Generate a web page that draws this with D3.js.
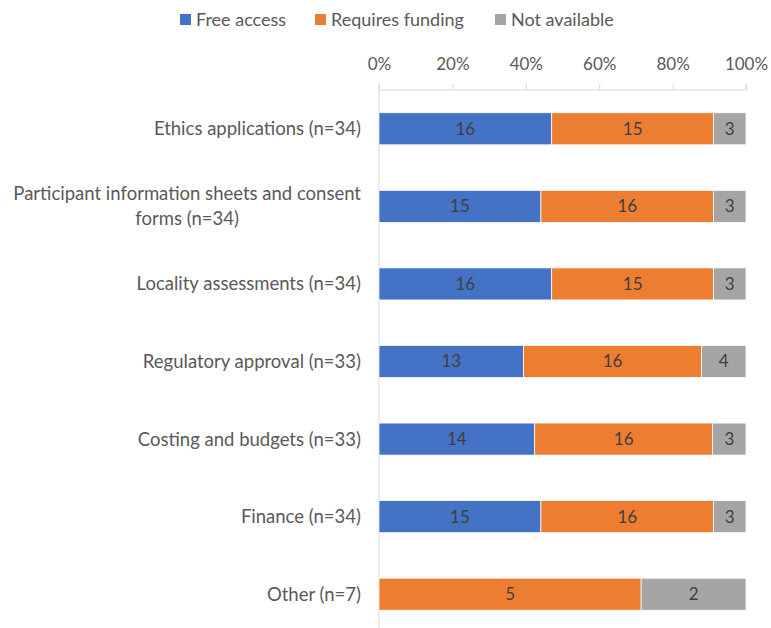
<!DOCTYPE html>
<html>
<head>
<meta charset="utf-8">
<script src="https://cdn.jsdelivr.net/npm/d3@7"></script>
<style>
  body { margin: 0; background: #fff; }
  svg { display: block; font-family: Lato, "Open Sans", sans-serif; }
</style>
</head>
<body>
<svg id="chart" width="771" height="628"></svg>
<script>
// Survey responses: availability of support per study activity
const categories = [
  "Ethics applications (n=34)",
  "Participant information sheets and consent forms (n=34)",
  "Locality assessments (n=34)",
  "Regulatory approval (n=33)",
  "Costing and budgets (n=33)",
  "Finance (n=34)",
  "Other (n=7)"
];
const seriesNames = ["Free access", "Requires funding", "Not available"];
const freeAccess      = [16, 15, 16, 13, 14, 15, 0];
const requiresFunding = [15, 16, 15, 16, 16, 16, 5];
const notAvailable    = [3, 3, 3, 4, 3, 3, 2];
const tickValues = [0, 0.2, 0.4, 0.6, 0.8, 1.0];
const colors = ["#4472C4", "#ED7D31", "#A5A5A5"];

const svg = d3.select("#chart");
const margin = { left: 379, right: 25, top: 90, bottom: -5 };
const W = 771, H = 628;

const rows = categories.map((c, i) => {
  const vals = [freeAccess[i], requiresFunding[i], notAvailable[i]];
  const total = d3.sum(vals);
  return { category: c, vals, total };
});

const x = d3.scaleLinear().domain([0, 1]).range([margin.left, W - margin.right]);
const y = d3.scaleBand().domain(categories)
  .range([margin.top, H - margin.bottom]).paddingInner(0.587).paddingOuter(0.2935);

// Percentage axis along the top
const xAxis = d3.axisTop(x).tickValues(tickValues)
  .tickFormat(d3.format(".0%")).tickSize(6).tickPadding(14);
const gx = svg.append("g").attr("transform", `translate(0,${margin.top})`).call(xAxis);
gx.select(".domain").attr("stroke", "#d9d9d9").attr("d", `M${x(0)},-6V0H${x(1)}V-6`);
gx.selectAll(".tick line").attr("stroke", "#d9d9d9");
gx.selectAll(".tick text").attr("fill", "#595959").style("font-size", "17px")
  .style("font-family", "Lato, 'Open Sans', sans-serif");

// Vertical category axis line
svg.append("line").attr("x1", x(0)).attr("x2", x(0))
  .attr("y1", margin.top).attr("y2", H).attr("stroke", "#d9d9d9");

// Stacked segments
const stack = rows.map(r => {
  let acc = 0;
  return r.vals.map((v, k) => {
    const seg = { category: r.category, k, v, x0: acc / r.total, x1: (acc + v) / r.total };
    acc += v;
    return seg;
  }).filter(s => s.v > 0);
});

const gBars = svg.append("g");
stack.forEach(segs => {
  gBars.selectAll(null).data(segs).enter().append("rect")
    .attr("x", d => x(d.x0))
    .attr("width", d => x(d.x1) - x(d.x0))
    .attr("y", d => y(d.category))
    .attr("height", y.bandwidth())
    .attr("fill", d => colors[d.k])
    .attr("stroke", "#fff").attr("stroke-width", 0.75);
  gBars.selectAll(null).data(segs).enter().append("text")
    .attr("x", d => (x(d.x0) + x(d.x1)) / 2)
    .attr("y", d => y(d.category) + y.bandwidth() / 2)
    .attr("dy", "0.35em").attr("text-anchor", "middle")
    .attr("fill", "#404040").style("font-size", "17px")
    .text(d => d.v);
});

// Category labels, wrapped where too long, block right-aligned
const labelRight = 361, maxWidth = 358;
const gLab = svg.append("g").style("font-size", "18.5px").attr("fill", "#595959");
categories.forEach(c => {
  const cy = y(c) + y.bandwidth() / 2;
  const t = gLab.append("text");
  const words = c.split(" ");
  let lines = [], line = [];
  words.forEach(w => {
    line.push(w);
    t.text(line.join(" "));
    if (t.node().getComputedTextLength() > maxWidth && line.length > 1) {
      line.pop(); lines.push(line.join(" ")); line = [w];
    }
  });
  lines.push(line.join(" "));
  t.text("");
  if (lines.length === 1) {
    t.attr("x", labelRight).attr("y", cy).attr("dy", "0.35em")
      .attr("text-anchor", "end").text(lines[0]);
  } else {
    const widths = lines.map(l => { t.text(l); return t.node().getComputedTextLength(); });
    t.text("");
    const bw = d3.max(widths);
    const cx = labelRight - bw / 2;
    const lh = 25;
    lines.forEach((l, i) => {
      t.append("tspan").attr("x", cx).attr("text-anchor", "middle")
        .attr("y", cy + (i - (lines.length - 1) / 2) * lh).attr("dy", "0.35em").text(l);
    });
  }
});

// Legend
const legendX = [180, 315, 495];
const gLeg = svg.append("g").style("font-size", "18px");
seriesNames.forEach((s, i) => {
  gLeg.append("rect").attr("x", legendX[i]).attr("y", 14).attr("width", 11).attr("height", 11)
    .attr("fill", colors[i]);
  gLeg.append("text").attr("x", legendX[i] + 16).attr("y", 20).attr("dy", "0.35em")
    .attr("fill", "#595959").text(s);
});
</script>
</body>
</html>
